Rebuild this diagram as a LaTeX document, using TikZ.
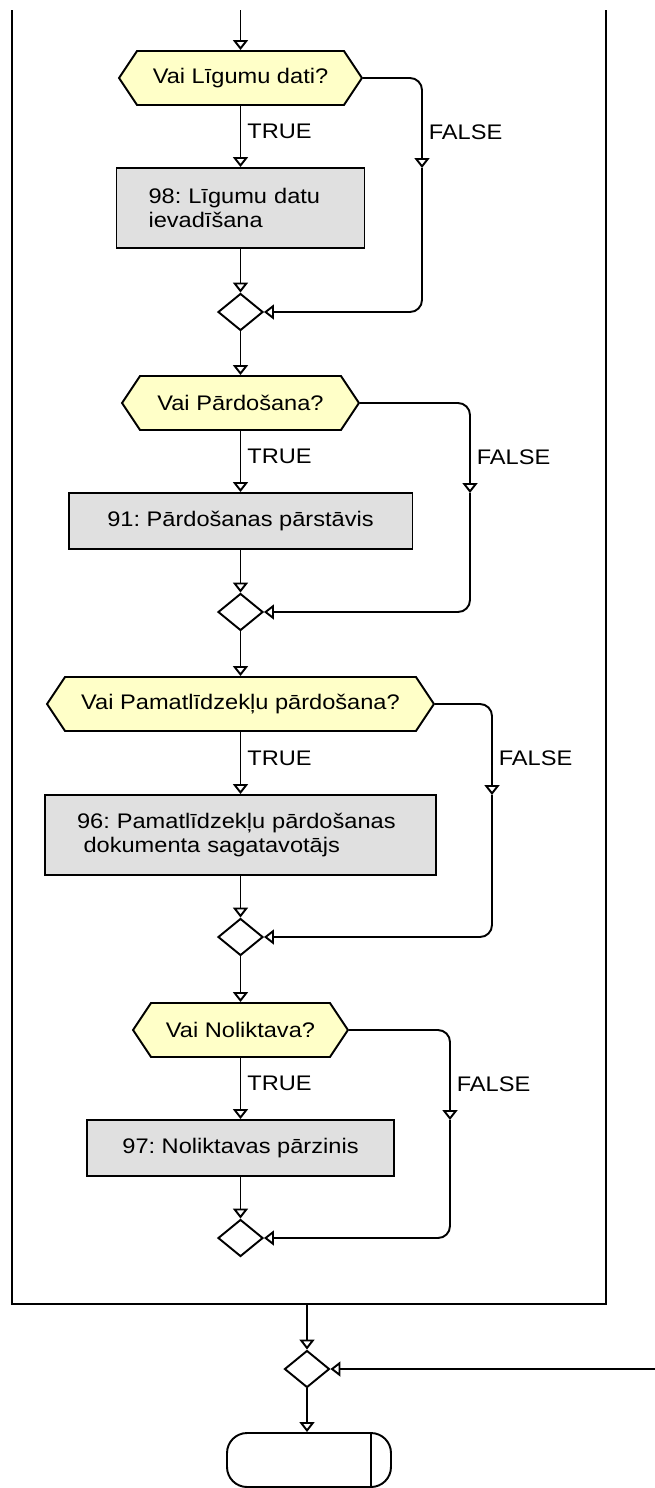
\documentclass[tikz,border=0pt]{standalone}
\usepackage{fontspec}
\setmainfont[FakeStretch=1.12]{Liberation Sans}
\usetikzlibrary{arrows.meta,shapes.symbols,shapes.geometric}
\definecolor{jaune}{HTML}{FFFFC8}
\definecolor{gris}{HTML}{E0E0E0}
\frenchspacing
\begin{document}
\begin{tikzpicture}[x=0.02cm,y=-0.02cm,font=\fontsize{12}{13.7}\selectfont]
% Styles
\tikzstyle{cadre}=[line width=1.1pt]
\tikzstyle{fleche}=[-{Triangle[open,length=0.2cm,width=0.3cm]},line width=1.1pt]
\tikzstyle{retour}=[fleche,rounded corners=0.24cm]
\tikzstyle{question}=[signal,signal to=west and east,signal pointer angle=112.6,draw,line width=1.1pt,fill=jaune,minimum height=1.08cm,inner sep=0pt]
\tikzstyle{action}=[rectangle,draw,line width=1.1pt,fill=gris,inner sep=0pt]
\tikzstyle{fusion}=[diamond,draw,line width=1.1pt,minimum width=0.9cm,minimum height=0.74cm,inner sep=0pt]
\tikzstyle{terminal}=[rectangle,rounded corners=0.4cm,draw,line width=1.1pt,minimum width=3.28cm,minimum height=1.08cm]
\tikzstyle{vrai}=[right,pos=0.42]
\tikzstyle{faux}=[right,pos=0.8]
% Dimensions
\def\col{240.5}
\def\haut{10}
\def\bas{1304}
\def\gauche{12}
\def\droite{606}
\useasboundingbox (0,0) rectangle (654,1488);
% Cadre du bloc
\draw[cadre] (\gauche,\haut) -- (\gauche,\bas) -- (\droite,\bas) -- (\droite,\haut);
\coordinate (entree) at (\col,\haut);
\coordinate (sortie) at (307,\bas);
% Bloc 1 : Līgumu dati
\node[question,minimum width=4.86cm] (q1) at (\col,78) {Vai Līgumu dati?};
\node[action,minimum width=4.96cm,minimum height=1.6cm,text width=3.68cm,align=left] (p1) at (\col,208) {98: Līgumu datu\\ievadīšana};
\node[fusion] (m1) at (\col,312) {};
\coordinate (f1) at (422,168);
% Bloc 2 : Pārdošana
\node[question,minimum width=4.74cm] (q2) at (\col,403) {Vai Pārdošana?};
\node[action,minimum width=6.88cm,minimum height=1.12cm] (p2) at (\col,521) {91: Pārdošanas pārstāvis};
\node[fusion] (m2) at (\col,612) {};
\coordinate (f2) at (470,493);
% Bloc 3 : Pamatlīdzekļu pārdošana
\node[question,minimum width=7.74cm] (q3) at (\col,704) {Vai Pamatlīdzekļu pārdošana?};
\node[action,minimum width=7.82cm,minimum height=1.6cm,text width=6.54cm,align=left] (p3) at (\col,835) {96: Pamatlīdzekļu pārdošanas\\\hspace*{0.13cm}dokumenta sagatavotājs};
\node[fusion] (m3) at (\col,937) {};
\coordinate (f3) at (492,795);
% Bloc 4 : Noliktava
\node[question,minimum width=4.3cm] (q4) at (\col,1030) {Vai Noliktava?};
\node[action,minimum width=6.14cm,minimum height=1.12cm] (p4) at (\col,1148) {97: Noliktavas pārzinis};
\node[fusion] (m4) at (\col,1238) {};
\coordinate (f4) at (450,1120);
% Sortie
\node[fusion] (m5) at (307,1369) {};
\coordinate (retour) at (660,1369);
\node[terminal] (fin) at (309,1460) {};
\draw[cadre] ([xshift=-0.42cm]fin.north east) -- ([xshift=-0.42cm]fin.south east);
% Liaisons
\draw[fleche] (entree) -- (q1.north);
\draw[fleche] (q1.south) -- node[vrai]{TRUE} (p1.north);
\draw[fleche] (p1.south) -- (m1.north);
\draw[retour] (q1.east) -| node[faux]{FALSE} (f1);
\draw[retour] (f1) |- (m1.east);
\draw[fleche] (m1.south) -- (q2.north);
\draw[fleche] (q2.south) -- node[vrai]{TRUE} (p2.north);
\draw[fleche] (p2.south) -- (m2.north);
\draw[retour] (q2.east) -| node[faux]{FALSE} (f2);
\draw[retour] (f2) |- (m2.east);
\draw[fleche] (m2.south) -- (q3.north);
\draw[fleche] (q3.south) -- node[vrai]{TRUE} (p3.north);
\draw[fleche] (p3.south) -- (m3.north);
\draw[retour] (q3.east) -| node[faux]{FALSE} (f3);
\draw[retour] (f3) |- (m3.east);
\draw[fleche] (m3.south) -- (q4.north);
\draw[fleche] (q4.south) -- node[vrai]{TRUE} (p4.north);
\draw[fleche] (p4.south) -- (m4.north);
\draw[retour] (q4.east) -| node[faux]{FALSE} (f4);
\draw[retour] (f4) |- (m4.east);
\draw[fleche] (sortie) -- (m5.north);
\draw[fleche] (retour) -- (m5.east);
\draw[fleche] (m5.south) -- (m5.south |- fin.north);
\end{tikzpicture}
\end{document}
